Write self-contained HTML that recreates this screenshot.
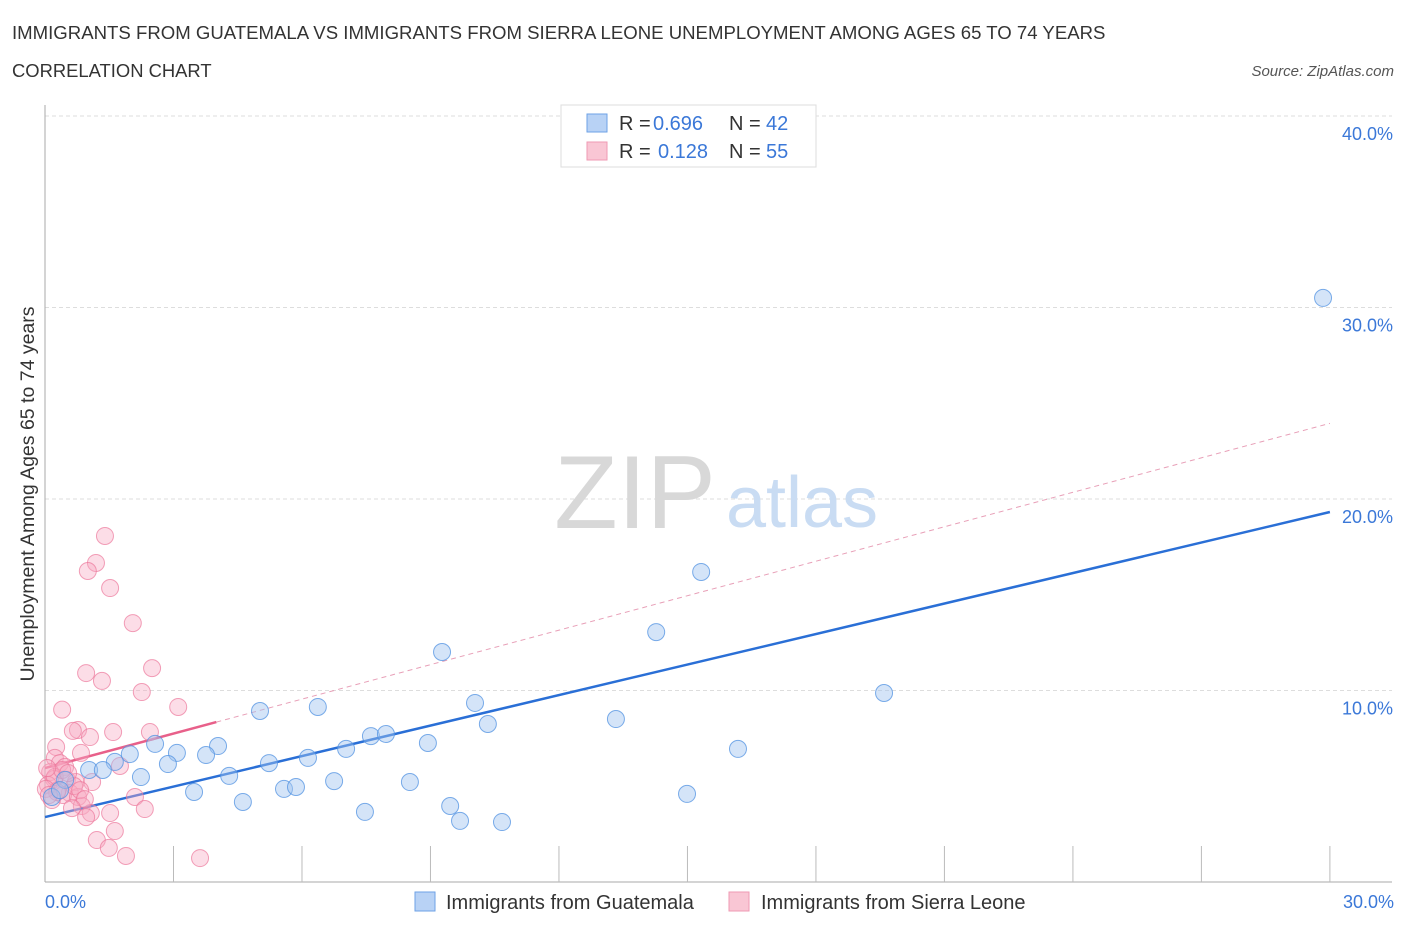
<!DOCTYPE html>
<html><head><meta charset="utf-8"><style>
body{margin:0;background:#fff;font-family:"Liberation Sans",sans-serif;}
svg text{font-family:"Liberation Sans",sans-serif;}
</style></head><body>
<svg id="chart" width="1406" height="930">
<text x="12" y="39" font-size="18.6" fill="#333">IMMIGRANTS FROM GUATEMALA VS IMMIGRANTS FROM SIERRA LEONE UNEMPLOYMENT AMONG AGES 65 TO 74 YEARS</text>
<text x="12" y="77" font-size="18.4" fill="#333">CORRELATION CHART</text>
<text x="1394" y="76" font-size="15" fill="#555" font-style="italic" text-anchor="end">Source: ZipAtlas.com</text>
<g id="grid"></g>
<text x="635" y="528" font-size="104" fill="#d8d8d8" font-family="Liberation Serif" text-anchor="middle">ZIP</text>
<text x="802" y="527" font-size="72" fill="#c9dcf3" text-anchor="middle">atlas</text>
<g id="axes"></g>
<g id="lines"></g>
<g id="points"></g>
<text x="34" y="494" font-size="19.5" fill="#333" transform="rotate(-90 34 494)" text-anchor="middle">Unemployment Among Ages 65 to 74 years</text>
<g>
<rect x="561" y="105" width="255" height="62" fill="#fff" stroke="#ddd"/>
<rect x="587" y="114" width="20" height="18" fill="#b8d2f5" stroke="#6ea2e6"/>
<rect x="587" y="142" width="20" height="18" fill="#f9c6d4" stroke="#ef9ab3"/>
<text x="619" y="130" font-size="20" fill="#333">R =</text>
<text x="653" y="130" font-size="20" fill="#3b78d8">0.696</text>
<text x="729" y="130" font-size="20" fill="#333">N =</text>
<text x="766" y="130" font-size="20" fill="#3b78d8">42</text>
<text x="619" y="158" font-size="20" fill="#333">R =</text>
<text x="658" y="158" font-size="20" fill="#3b78d8">0.128</text>
<text x="729" y="158" font-size="20" fill="#333">N =</text>
<text x="766" y="158" font-size="20" fill="#3b78d8">55</text>
</g>
<g>
<rect x="415" y="892" width="20" height="19" fill="#b8d2f5" stroke="#6ea2e6"/>
<text x="446" y="909" font-size="20" fill="#333">Immigrants from Guatemala</text>
<rect x="729" y="892" width="20" height="19" fill="#f9c6d4" stroke="#ef9ab3"/>
<text x="761" y="909" font-size="20" fill="#333">Immigrants from Sierra Leone</text>
</g>
</svg>
<script>
const yTicks=[10,20,30,40];
const yTickLabels=["10.0%","20.0%","30.0%","40.0%"];
const xTickLabels=["0.0%","30.0%"];
const blueX=[29.84,15.32,14.27,9.27,19.59,10.04,6.37,5.02,10.34,13.33,7.61,7.96,8.94,16.18,4.04,2.57,3.08,1.98,3.76,7.03,6.14,1.63,2.87,5.23,4.30,2.24,6.75,8.52,1.03,1.35,3.48,5.58,5.86,4.62,9.46,7.47,9.69,10.67,14.99,0.47,0.16,0.35];
const blueY=[30.5,16.19,13.05,12.01,9.87,9.35,9.14,8.93,8.25,8.51,7.62,7.73,7.26,6.95,7.10,7.21,6.74,6.68,6.63,6.95,6.48,6.27,6.16,6.21,5.54,5.48,5.27,5.22,5.85,5.85,4.70,4.86,4.96,4.18,3.97,3.66,3.19,3.13,4.60,5.33,4.44,4.80];
const pinkX=[1.40,1.19,1.00,1.52,2.05,2.50,0.96,1.33,2.26,3.11,0.40,0.77,0.65,1.59,1.05,2.45,0.26,0.84,0.23,1.75,0.35,0.47,0.12,0.21,0.51,0.72,1.10,0.07,0.30,0.58,0.42,0.77,2.10,0.86,2.33,1.07,1.52,0.96,1.63,1.21,1.49,1.89,3.62,0.23,0.68,0.40,0.05,0.16,0.54,0.82,0.28,0.02,0.09,0.93,0.63];
const pinkY=[18.07,16.66,16.24,15.35,13.52,11.17,10.91,10.50,9.92,9.14,9.00,7.94,7.89,7.83,7.57,7.83,7.05,6.74,6.48,6.06,6.21,6.01,5.74,5.38,5.33,5.22,5.22,5.07,4.80,4.65,4.54,4.44,4.44,3.97,3.81,3.60,3.60,3.39,2.66,2.19,1.78,1.36,1.25,5.48,5.01,5.85,5.95,4.28,5.69,4.80,4.70,4.86,4.54,4.33,3.86];
const blueFit=[3.39,19.32];
const pinkFit=[5.95,23.95];
const pinkSolidEnd=4.0;

const NS="http://www.w3.org/2000/svg";
const X=v=>45+v*42.83;
const Y=v=>882-v*19.15;
function mk(tag,attrs,parent){const e=document.createElementNS(NS,tag);for(const k in attrs)e.setAttribute(k,attrs[k]);document.getElementById(parent).appendChild(e);return e;}
yTicks.forEach((t,i)=>{
  const g=mk('line',{x1:45,x2:1392,y1:Y(t),y2:Y(t),stroke:'#ddd','stroke-dasharray':'4,3'},'grid');
  
  
  const l=mk('text',{x:1393,y:Y(t)+24,'font-size':18,fill:'#3b78d8','text-anchor':'end'},'grid');
  l.textContent=yTickLabels[i];
  
  
});
let a=mk('line',{x1:45,x2:45,y1:105,y2:882,stroke:'#aaa'},'axes');


a=mk('line',{x1:45,x2:1392,y1:882,y2:882,stroke:'#aaa'},'axes');


for(let i=1;i<=10;i++){
  const t=mk('line',{x1:X(i*3),x2:X(i*3),y1:846,y2:882,stroke:'#bbb'},'axes');
  
  
}
[[0,'start',45],[30,'end',1394]].forEach((d,i)=>{
  const t=mk('text',{x:d[2],y:908,'font-size':18,fill:'#3b78d8','text-anchor':d[1]},'axes');
  t.textContent=xTickLabels[i];
  
  
});
const pf=v=>pinkFit[0]+(pinkFit[1]-pinkFit[0])*v/30;
let ln=mk('line',{x1:X(pinkSolidEnd),y1:Y(pf(pinkSolidEnd)),x2:X(30),y2:Y(pinkFit[1]),stroke:'#e8a0b8','stroke-dasharray':'5,4','stroke-width':1},'lines');


ln=mk('line',{x1:X(0),y1:Y(pinkFit[0]),x2:X(pinkSolidEnd),y2:Y(pf(pinkSolidEnd)),stroke:'#e8608a','stroke-width':2.5},'lines');


ln=mk('line',{x1:X(0),y1:Y(blueFit[0]),x2:X(30),y2:Y(blueFit[1]),stroke:'#2a6fd6','stroke-width':2.5},'lines');


pinkX.forEach((x,i)=>{
  const c=mk('circle',{cx:X(x),cy:Y(pinkY[i]),r:8.5,fill:'rgba(247,170,195,0.4)',stroke:'rgba(236,120,155,0.7)','stroke-width':1},'points');
  
  
});
blueX.forEach((x,i)=>{
  const c=mk('circle',{cx:X(x),cy:Y(blueY[i]),r:8.5,fill:'rgba(160,196,240,0.45)',stroke:'rgba(80,145,225,0.75)','stroke-width':1},'points');
  
  
});
</script>
</body></html>
